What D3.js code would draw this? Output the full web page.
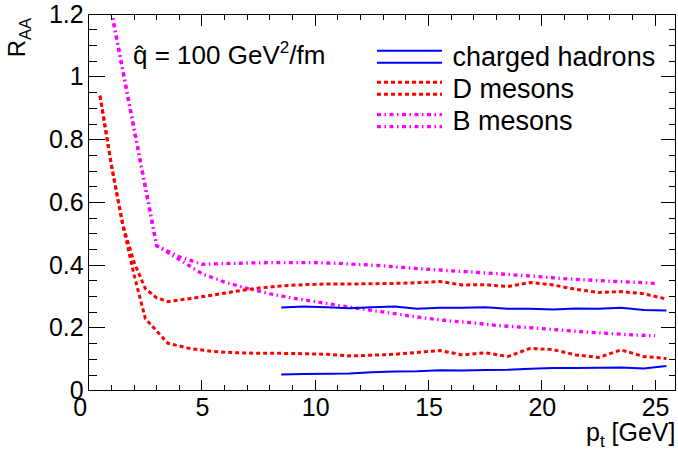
<!DOCTYPE html>
<html><head><meta charset="utf-8">
<script src="https://cdn.jsdelivr.net/npm/d3@7"></script>
<style>
html,body{margin:0;padding:0;background:#fff;}
text{font-family:"Liberation Sans",Arial,Helvetica,sans-serif;fill:#000;}
</style></head>
<body><svg id="c" width="678" height="450"></svg>
<script>
// ---- data ----
const chX = [8.5,9.5,10.5,11.5,12.5,13.5,14.5,15.5,16.5,17.5,18.5,19.5,20.5,21.5,22.5,23.5,24.5,25.5];
const chUpper = [0.265,0.268,0.266,0.263,0.266,0.268,0.261,0.264,0.264,0.266,0.261,0.261,0.259,0.262,0.261,0.264,0.257,0.256];
const chLower = [0.052,0.053,0.054,0.055,0.059,0.061,0.062,0.065,0.064,0.066,0.067,0.070,0.072,0.072,0.073,0.074,0.071,0.079];

const dX = [0.5,1,1.5,2,2.5,3,3.5,4.5,5.5,6.5,7.5,8.5,9.5,10.5,11.5,12.5,13.5,14.5,15.5,16.5,17.5,18.5,19.5,20.5,21.5,22.5,23.5,24.5,25.5];
const dUpper = [0.94,0.72,0.53,0.41,0.325,0.296,0.284,0.294,0.305,0.317,0.327,0.334,0.338,0.340,0.340,0.341,0.342,0.344,0.348,0.337,0.338,0.332,0.345,0.337,0.323,0.313,0.316,0.309,0.292];
const dLower = [0.94,0.72,0.53,0.37,0.23,0.19,0.151,0.134,0.125,0.121,0.119,0.119,0.118,0.116,0.111,0.113,0.116,0.122,0.128,0.114,0.121,0.109,0.135,0.131,0.114,0.106,0.130,0.109,0.103];

const bX = [1,2,3,4,5,6,7,8,9,10,11,12,13,14,15,16,17,18,19,20,21,22,23,24,25];
const bUpper = [1.21,0.835,0.462,0.427,0.403,0.405,0.407,0.408,0.408,0.408,0.406,0.402,0.398,0.392,0.387,0.382,0.378,0.373,0.368,0.363,0.357,0.353,0.349,0.346,0.342];
const bLower = [1.21,0.835,0.462,0.418,0.373,0.346,0.326,0.309,0.295,0.284,0.272,0.261,0.251,0.240,0.230,0.222,0.216,0.208,0.203,0.198,0.192,0.187,0.182,0.178,0.175];

const xMajorTicks = [0,5,10,15,20,25];
const yMajorTicks = [0,0.2,0.4,0.6,0.8,1,1.2];
const yTickLabels = ["0","0.2","0.4","0.6","0.8","1","1.2"];
const legendLabels = ["charged hadrons","D mesons","B mesons"];

// ---- layout ----
const L = 88.7, R = 675.5, T = 14.2, B = 390.7;
const svg = d3.select("#c");
const x = d3.scaleLinear().domain([0,25.9]).range([L,R]);
const y = d3.scaleLinear().domain([0,1.2]).range([B,T]);

svg.append("defs").append("clipPath").attr("id","clip")
  .append("rect").attr("x",L).attr("y",T).attr("width",R-L).attr("height",B-T);

const styles = {
  ch:{color:"#0000ff", w:2, dash:null},
  d:{color:"#ff0000", w:3, dash:"4 3"},
  b:{color:"#ff00ff", w:3.3, dash:"4 3.5 1.5 3.5"}
};
const line = d3.line().x(d=>x(d[0])).y(d=>y(d[1]));
const g = svg.append("g").attr("clip-path","url(#clip)");
function draw(xs, ys, st){
  g.append("path").datum(xs.map((v,i)=>[v,ys[i]])).attr("d",line)
    .attr("fill","none").attr("stroke",st.color).attr("stroke-width",st.w)
    .attr("stroke-dasharray",st.dash).attr("stroke-linejoin","miter");
}
draw(bX,bUpper,styles.b); draw(bX,bLower,styles.b);
draw(dX,dUpper,styles.d); draw(dX,dLower,styles.d);
draw(chX,chUpper,styles.ch); draw(chX,chLower,styles.ch);

// ---- axes ----
const ax = svg.append("g").attr("stroke","#000").attr("stroke-width",1).attr("shape-rendering","crispEdges");
ax.append("rect").attr("x",L).attr("y",T).attr("width",R-L).attr("height",B-T).attr("fill","none");
const xMinor = d3.range(0,26,1);
xMinor.forEach(v=>{
  const major = v%5===0;
  const len = major?11:6;
  ax.append("line").attr("x1",x(v)).attr("x2",x(v)).attr("y1",B).attr("y2",B-len);
  ax.append("line").attr("x1",x(v)).attr("x2",x(v)).attr("y1",T).attr("y2",T+len+(major?1:0));
});
const yMinor = d3.range(0,1.2001,0.05);
yMinor.forEach((v,i)=>{
  const major = i%4===0;
  const len = major?16:8;
  ax.append("line").attr("y1",y(v)).attr("y2",y(v)).attr("x1",L).attr("x2",L+len);
  ax.append("line").attr("y1",y(v)).attr("y2",y(v)).attr("x1",R).attr("x2",R-(major?15:7));
});
const xAxis = d3.axisBottom(x).tickValues(xMajorTicks).tickSize(0).tickFormat(d3.format("d"));
const gx = svg.append("g").attr("transform",`translate(0,${B})`).call(xAxis);
gx.select(".domain").remove();
gx.selectAll("text").attr("font-size",25).attr("font-family","Liberation Sans,Arial,sans-serif")
  .attr("fill","#000").attr("dy",null).attr("y",25)
  .attr("dx",d=>d===0?-9:0);
const yAxis = d3.axisLeft(y).tickValues(yMajorTicks).tickSize(0).tickFormat((d,i)=>yTickLabels[i]);
const gy = svg.append("g").attr("transform",`translate(${L},0)`).call(yAxis);
gy.select(".domain").remove();
gy.selectAll("text").attr("font-size",25).attr("font-family","Liberation Sans,Arial,sans-serif")
  .attr("fill","#000").attr("x",-5).attr("dy",null).attr("y",8);

// axis titles
const xt = svg.append("text").attr("x",R).attr("y",441).attr("text-anchor","end").attr("font-size",25);
xt.append("tspan").text("p");
xt.append("tspan").attr("font-size",17).attr("dy",6).text("t");
xt.append("tspan").attr("dy",-6).text(" [GeV]");

const yt = svg.append("text").attr("transform","translate(25,18) rotate(-90)").attr("text-anchor","end").attr("font-size",24);
yt.append("tspan").text("R");
yt.append("tspan").attr("font-size",16.5).attr("dy",6).text("AA");

// title
const tt = svg.append("text").attr("x",133).attr("y",63.5).attr("font-size",26);
tt.append("tspan").text("q\u0302 = 100 GeV");
tt.append("tspan").attr("font-size",17).attr("dy",-11).text("2");
tt.append("tspan").attr("dy",11).text("/fm");

// legend
const legCenters = [56.7,88.3,120.7];
const legStyles = [styles.ch,styles.d,styles.b];
legendLabels.forEach((lab,i)=>{
  const st = legStyles[i], c = legCenters[i];
  [-6,6].forEach(o=>{
    svg.append("line").attr("x1",377).attr("x2",442).attr("y1",c+o).attr("y2",c+o)
      .attr("stroke",st.color).attr("stroke-width",st.w).attr("stroke-dasharray",st.dash);
  });
  svg.append("text").attr("x",452.5).attr("y",c+9.5).attr("font-size",27).text(lab);
});
</script></body></html>
